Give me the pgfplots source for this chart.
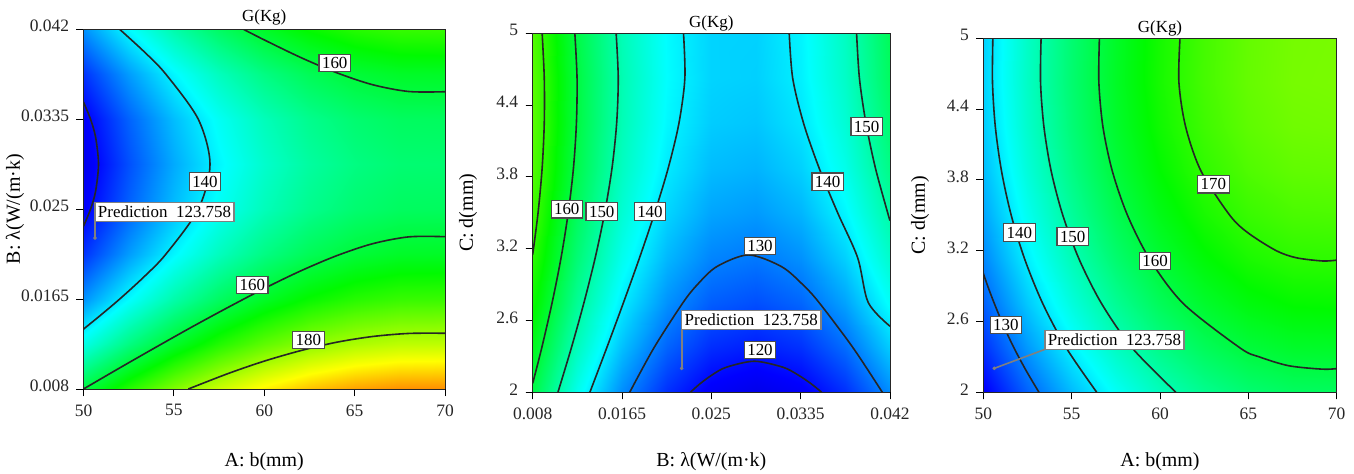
\documentclass[border=0pt]{standalone}
\usepackage{fontspec}
\setmainfont{Liberation Serif}
\usepackage{pgfplots}
\pgfplotsset{compat=1.18}
\newcommand\tfont{\fontsize{17.5}{19}\selectfont}
\newcommand\bfont{\fontsize{17}{19}\selectfont}
\newcommand\lfont{\fontsize{20}{22}\selectfont}
\pgfplotsset{
  de/.style={
    view={0}{90}, scale only axis, anchor=south west,
    axis on top,
    zmin=0, zmax=250, ztick=\empty,
    scaled x ticks=false, scaled y ticks=false,
    tick align=outside, xtick pos=left, ytick pos=left,
    major tick length=7bp,
    tick style={black, line width=0.9bp},
    axis line style={black!85, line width=0.9bp},
    colormap={de}{rgb255(0cm)=(0,0,200); rgb255(7cm)=(0,0,255); rgb255(30cm)=(0,255,255); rgb255(54cm)=(0,250,0); rgb255(77cm)=(255,255,0); rgb255(99cm)=(255,0,0)},
    point meta min=112, point meta max=211,
    ticklabel style={font=\tfont, text=black!85},
    yticklabel style={yshift=3bp, xshift=-4bp},
    xticklabel style={yshift=-5bp},
    /pgf/number format/assume math mode=true,
    title={G(Kg)},
  },
  cont/.style={black!85, line width=1.6bp, smooth, no marks},
  predline/.style={gray, line width=1.6bp, no marks},
  preddot/.style={only marks, mark=*, mark size=1.6bp, gray},
}
\tikzset{
  lbl/.style={fill=white, draw=black!70, line width=1.1bp, inner sep=3bp, font=\bfont},
  pred/.style={fill=white, draw=gray, line width=1.3bp, inner xsep=3bp, inner ysep=3.5bp, font=\bfont, anchor=south west},
}
\begin{document}
\begin{tikzpicture}
\path[use as bounding box] (0,0) rectangle (1354bp,-474bp);
% ---------------- Panel 1: A vs B ----------------
\begin{axis}[de,
  at={(83.5bp,-389bp)}, width=361.5bp, height=359.7bp,
  xmin=50, xmax=70, ymin=0.008, ymax=0.042,
  xtick={50,55,60,65,70}, xticklabels={50,55,60,65,70},
  ytick={0.008,0.0165,0.025,0.0335,0.042}, yticklabels={0.008,0.0165,0.025,0.0335,0.042},
  xlabel={A: b(mm)}, ylabel={B: λ(W/(m·k)},
  every axis x label/.style={at={(axis description cs:0.5,-0.203)}, anchor=center, font=\lfont},
  every axis y label/.style={at={(axis description cs:-0.1895,0.5)}, anchor=center, rotate=90, font=\lfont},
  every axis title/.style={at={(axis description cs:0.5,1.034)}, anchor=center, font=\fontsize{17}{19}\selectfont},
]
\addplot3[surf, shader=interp, mesh/rows=9, mesh/cols=9] table {
x y z
50 0.008 159.98
52.5 0.008 169.50
55 0.008 177.69
57.5 0.008 184.54
60 0.008 190.06
62.5 0.008 194.24
65 0.008 197.09
67.5 0.008 198.60
70 0.008 198.78
50 0.01225 144.40
52.5 0.01225 153.92
55 0.01225 162.11
57.5 0.01225 168.96
60 0.01225 174.48
62.5 0.01225 178.66
65 0.01225 181.51
67.5 0.01225 183.02
70 0.01225 183.20
50 0.0165 132.28
52.5 0.0165 141.80
55 0.0165 149.99
57.5 0.0165 156.84
60 0.0165 162.36
62.5 0.0165 166.54
65 0.0165 169.39
67.5 0.0165 170.90
70 0.0165 171.08
50 0.02075 123.63
52.5 0.02075 133.15
55 0.02075 141.34
57.5 0.02075 148.19
60 0.02075 153.71
62.5 0.02075 157.89
65 0.02075 160.74
67.5 0.02075 162.25
70 0.02075 162.43
50 0.025 118.43
52.5 0.025 127.95
55 0.025 136.14
57.5 0.025 142.99
60 0.025 148.51
62.5 0.025 152.69
65 0.025 155.54
67.5 0.025 157.05
70 0.025 157.23
50 0.02925 116.70
52.5 0.02925 126.22
55 0.02925 134.41
57.5 0.02925 141.26
60 0.02925 146.78
62.5 0.02925 150.96
65 0.02925 153.81
67.5 0.02925 155.32
70 0.02925 155.50
50 0.0335 118.43
52.5 0.0335 127.95
55 0.0335 136.14
57.5 0.0335 142.99
60 0.0335 148.51
62.5 0.0335 152.69
65 0.0335 155.54
67.5 0.0335 157.05
70 0.0335 157.23
50 0.03775 123.63
52.5 0.03775 133.15
55 0.03775 141.34
57.5 0.03775 148.19
60 0.03775 153.71
62.5 0.03775 157.89
65 0.03775 160.74
67.5 0.03775 162.25
70 0.03775 162.43
50 0.042 132.28
52.5 0.042 141.80
55 0.042 149.99
57.5 0.042 156.84
60 0.042 162.36
62.5 0.042 166.54
65 0.042 169.39
67.5 0.042 170.90
70 0.042 171.08
};
\addplot3[cont] coordinates {(50,0.03512,0) (50.39,0.0335,0) (50.67,0.0318,0) (50.83,0.02925,0) (50.67,0.0267,0) (50.39,0.025,0) (50,0.02339,0)};
\addplot3[cont] coordinates {(52.0,0.042,0) (53.36,0.039875,0) (54.56,0.03775,0) (56.35,0.0335,0) (57.0,0.02925,0) (56.35,0.025,0) (54.56,0.02075,0) (53.36,0.018625,0) (52.0,0.0165,0) (50.82,0.0148,0) (50,0.01366,0)};
\addplot3[cont] coordinates {(58.85,0.042,0) (60,0.041,0) (62,0.03935,0) (64,0.0379,0) (66,0.03676,0) (68,0.03612,0) (70,0.0361,0)};
\addplot3[cont] coordinates {(50,0.008,0) (52,0.00999,0) (54,0.011944,0) (56,0.013865,0) (58,0.015718,0) (60,0.017503,0) (62,0.019152,0) (64,0.020597,0) (66,0.021736,0) (68,0.022382,0) (70,0.022399,0)};
\addplot3[cont] coordinates {(55.8,0.008,0) (58,0.009462,0) (60,0.010635,0) (62,0.011621,0) (64,0.01242,0) (66,0.012964,0) (68,0.013253,0) (70,0.01327,0)};
\node[lbl] at (axis cs:63.9,0.0388,0) {160};
\node[lbl] at (axis cs:56.72,0.0276,0) {140};
\node[lbl] at (axis cs:59.34,0.01783,0) {160};
\node[lbl] at (axis cs:62.44,0.01263,0) {180};
\addplot3[predline] coordinates {(50.64,0.02227,0) (50.64,0.0238,0)};
\addplot3[preddot] coordinates {(50.64,0.02227,0)};
\node[pred] at (axis cs:50.60,0.0238,0) {Prediction\hspace{0.5em}123.758};
\end{axis}
% ---------------- Panel 2: B vs C ----------------
\begin{axis}[de,
  at={(532.7bp,-392.3bp)}, width=357.3bp, height=359bp,
  xmin=0.008, xmax=0.042, ymin=2, ymax=5,
  xtick={0.008,0.0165,0.025,0.0335,0.042}, xticklabels={0.008,0.0165,0.025,0.0335,0.042},
  ytick={2,2.6,3.2,3.8,4.4,5}, yticklabels={2,2.6,3.2,3.8,4.4,5},
  xlabel={B: λ(W/(m·k)}, ylabel={C: d(mm)},
  every axis x label/.style={at={(axis description cs:0.5,-0.194)}, anchor=center, font=\lfont},
  every axis y label/.style={at={(axis description cs:-0.181,0.5)}, anchor=center, rotate=90, font=\lfont},
  every axis title/.style={at={(axis description cs:0.5,1.028)}, anchor=center, font=\fontsize{17}{19}\selectfont},
]
\addplot3[surf, shader=interp, mesh/rows=9, mesh/cols=9] table {
x y z
0.008 2 159.11
0.01225 2 143.70
0.0165 2 131.71
0.02075 2 123.15
0.025 2 118.01
0.02925 2 116.30
0.0335 2 118.01
0.03775 2 123.15
0.042 2 131.71
0.008 2.375 163.41
0.01225 2.375 148.18
0.0165 2.375 136.38
0.02075 2.375 128.01
0.025 2.375 123.06
0.02925 2.375 121.54
0.0335 2.375 123.44
0.03775 2.375 128.76
0.042 2.375 137.51
0.008 2.75 166.98
0.01225 2.75 151.94
0.0165 2.75 140.33
0.02075 2.75 132.15
0.025 2.75 127.39
0.02925 2.75 126.05
0.0335 2.75 128.14
0.03775 2.75 133.65
0.042 2.75 142.59
0.008 3.125 169.82
0.01225 3.125 154.98
0.0165 3.125 143.55
0.02075 3.125 135.56
0.025 3.125 130.98
0.02925 3.125 129.84
0.0335 3.125 132.11
0.03775 3.125 137.82
0.042 3.125 146.94
0.008 3.5 171.95
0.01225 3.5 157.29
0.0165 3.5 146.06
0.02075 3.5 138.25
0.025 3.5 133.86
0.02925 3.5 132.90
0.0335 3.5 135.37
0.03775 3.5 141.26
0.042 3.5 150.58
0.008 3.875 173.35
0.01225 3.875 158.88
0.0165 3.875 147.84
0.02075 3.875 140.22
0.025 3.875 136.02
0.02925 3.875 135.25
0.0335 3.875 137.90
0.03775 3.875 143.98
0.042 3.875 153.49
0.008 4.25 174.03
0.01225 4.25 159.75
0.0165 4.25 148.89
0.02075 4.25 141.46
0.025 4.25 137.45
0.02925 4.25 136.87
0.0335 4.25 139.71
0.03775 4.25 145.98
0.042 4.25 155.67
0.008 4.625 173.98
0.01225 4.625 159.89
0.0165 4.625 149.22
0.02075 4.625 141.98
0.025 4.625 138.16
0.02925 4.625 137.76
0.0335 4.625 140.79
0.03775 4.625 147.25
0.042 4.625 157.13
0.008 5 173.21
0.01225 5 159.30
0.0165 5 148.82
0.02075 5 141.77
0.025 5 138.14
0.02925 5 137.93
0.0335 5 141.15
0.03775 5 147.80
0.042 5 157.87
};
\addplot3[cont] coordinates {(0.023,2,0) (0.02397,2.075,0) (0.02515,2.15,0) (0.02644,2.21,0) (0.02909,2.2597,0) (0.0318,2.21,0) (0.03316,2.15,0) (0.03444,2.075,0) (0.0355,2,0)};
\addplot3[cont] coordinates {(0.01723,2,0) (0.01956,2.375,0) (0.02231,2.75,0) (0.02367,2.9,0) (0.02551,3.05,0) (0.02853,3.148,0) (0.03168,3.05,0) (0.0337,2.9,0) (0.03525,2.75,0) (0.03846,2.375,0) (0.04127,2,0)};
\addplot3[cont] coordinates {(0.01344,2,0) (0.01506,2.375,0) (0.01664,2.75,0) (0.01817,3.125,0) (0.01961,3.5,0) (0.0209,3.875,0) (0.02192,4.25,0) (0.02248,4.625,0) (0.02235,5,0)};
\addplot3[cont] coordinates {(0.03241,5,0) (0.03274,4.625,0) (0.03377,4.25,0) (0.03525,3.875,0) (0.03702,3.5,0) (0.03892,3.125,0) (0.03993,2.75,0) (0.042,2.552,0)};
\addplot3[cont] coordinates {(0.0104,2,0) (0.01169,2.375,0) (0.01288,2.75,0) (0.01395,3.125,0) (0.01485,3.5,0) (0.01555,3.875,0) (0.01599,4.25,0) (0.01614,4.625,0) (0.01594,5,0)};
\addplot3[cont] coordinates {(0.03882,5,0) (0.03909,4.625,0) (0.03971,4.25,0) (0.04061,3.875,0) (0.04178,3.5,0) (0.042,3.4355,0)};
\addplot3[cont] coordinates {(0.008,2.075,0) (0.00887,2.375,0) (0.00985,2.75,0) (0.0107,3.125,0) (0.01138,3.5,0) (0.01188,3.875,0) (0.01216,4.25,0) (0.01222,4.625,0) (0.01201,5,0)};
\addplot3[cont] coordinates {(0.0089,5,0) (0.0091,4.625,0) (0.0091,4.25,0) (0.0089,3.875,0) (0.00851,3.5,0) (0.008,3.152,0)};
\node[lbl] at (axis cs:0.01124,3.529,0) {160};
\node[lbl] at (axis cs:0.01457,3.51,0) {150};
\node[lbl] at (axis cs:0.01916,3.51,0) {140};
\node[lbl] at (axis cs:0.02963,3.223,0) {130};
\node[lbl] at (axis cs:0.02963,2.354,0) {120};
\node[lbl] at (axis cs:0.03607,3.76,0) {140};
\node[lbl] at (axis cs:0.03978,4.22,0) {150};
\addplot3[predline] coordinates {(0.02218,2.2,0) (0.02218,2.521,0)};
\addplot3[preddot] coordinates {(0.02218,2.2,0)};
\node[pred] at (axis cs:0.02212,2.521,0) {Prediction\hspace{0.5em}123.758};
\end{axis}
% ---------------- Panel 3: A vs C ----------------
\begin{axis}[de,
  at={(983.3bp,-392.3bp)}, width=353.4bp, height=354bp,
  xmin=50, xmax=70, ymin=2, ymax=5,
  xtick={50,55,60,65,70}, xticklabels={50,55,60,65,70},
  ytick={2,2.6,3.2,3.8,4.4,5}, yticklabels={2,2.6,3.2,3.8,4.4,5},
  xlabel={A: b(mm)}, ylabel={C: d(mm)},
  every axis x label/.style={at={(axis description cs:0.5,-0.197)}, anchor=center, font=\lfont},
  every axis y label/.style={at={(axis description cs:-0.179,0.5)}, anchor=center, rotate=90, font=\lfont},
  every axis title/.style={at={(axis description cs:0.5,1.029)}, anchor=center, font=\fontsize{17}{19}\selectfont},
]
\addplot3[surf, shader=interp, mesh/rows=9, mesh/cols=9] table {
x y z
50 2 118.22
52.5 2 127.74
55 2 135.93
57.5 2 142.79
60 2 148.33
62.5 2 152.54
65 2 155.43
67.5 2 156.99
70 2 157.23
50 2.375 123.22
52.5 2.375 132.74
55 2.375 140.93
57.5 2.375 147.79
60 2.375 153.33
62.5 2.375 157.54
65 2.375 160.43
67.5 2.375 161.99
70 2.375 162.23
50 2.75 127.49
52.5 2.75 137.01
55 2.75 145.20
57.5 2.75 152.06
60 2.75 157.60
62.5 2.75 161.81
65 2.75 164.70
67.5 2.75 166.26
70 2.75 166.50
50 3.125 131.03
52.5 3.125 140.55
55 3.125 148.74
57.5 3.125 155.60
60 3.125 161.14
62.5 3.125 165.35
65 3.125 168.24
67.5 3.125 169.80
70 3.125 170.04
50 3.5 133.84
52.5 3.5 143.36
55 3.5 151.55
57.5 3.5 158.41
60 3.5 163.95
62.5 3.5 168.16
65 3.5 171.05
67.5 3.5 172.61
70 3.5 172.85
50 3.875 135.93
52.5 3.875 145.45
55 3.875 153.64
57.5 3.875 160.50
60 3.875 166.04
62.5 3.875 170.25
65 3.875 173.14
67.5 3.875 174.70
70 3.875 174.94
50 4.25 137.29
52.5 4.25 146.81
55 4.25 155.00
57.5 4.25 161.86
60 4.25 167.40
62.5 4.25 171.61
65 4.25 174.50
67.5 4.25 176.06
70 4.25 176.30
50 4.625 137.92
52.5 4.625 147.44
55 4.625 155.63
57.5 4.625 162.49
60 4.625 168.03
62.5 4.625 172.24
65 4.625 175.13
67.5 4.625 176.69
70 4.625 176.93
50 5 137.82
52.5 5 147.34
55 5 155.53
57.5 5 162.39
60 5 167.93
62.5 5 172.14
65 5 175.03
67.5 5 176.59
70 5 176.83
};
\addplot3[cont] coordinates {(53.15,2,0) (52.41,2.1875,0) (51.74,2.375,0) (51.15,2.5625,0) (50.63,2.75,0) (50.25,2.9,0) (50,3.008,0)};
\addplot3[cont] coordinates {(56.42,2,0) (54.70,2.375,0) (53.37,2.75,0) (52.35,3.125,0) (51.58,3.5,0) (51.03,3.875,0) (50.68,4.25,0) (50.52,4.625,0) (50.54,5,0)};
\addplot3[cont] coordinates {(60.90,2,0) (58.43,2.375,0) (56.70,2.75,0) (55.43,3.125,0) (54.50,3.5,0) (53.84,3.875,0) (53.43,4.25,0) (53.24,4.625,0) (53.27,5,0)};
\addplot3[cont] coordinates {(56.57,5,0) (56.54,4.625,0) (56.77,4.25,0) (57.30,3.875,0) (58.16,3.5,0) (59.43,3.125,0) (61.33,2.75,0) (64.54,2.375,0) (65.62,2.3,0) (67.29,2.225,0) (69.2,2.196,0) (70,2.201,0)};
\addplot3[cont] coordinates {(61.13,5,0) (61.07,4.625,0) (61.45,4.25,0) (62.32,3.875,0) (63.95,3.5,0) (64.99,3.35,0) (66.58,3.2,0) (67.72,3.14,0) (69.2,3.113,0) (70,3.12,0)};
\node[lbl] at (axis cs:51.28,2.571,0) {130};
\node[lbl] at (axis cs:52.04,3.353,0) {140};
\node[lbl] at (axis cs:55.06,3.319,0) {150};
\node[lbl] at (axis cs:59.72,3.113,0) {160};
\node[lbl] at (axis cs:63.02,3.763,0) {170};
\addplot3[predline] coordinates {(50.62,2.203,0) (53.49,2.364,0)};
\addplot3[preddot] coordinates {(50.62,2.203,0)};
\node[pred] at (axis cs:53.45,2.359,0) {Prediction\hspace{0.5em}123.758};
\end{axis}
\end{tikzpicture}
\end{document}
